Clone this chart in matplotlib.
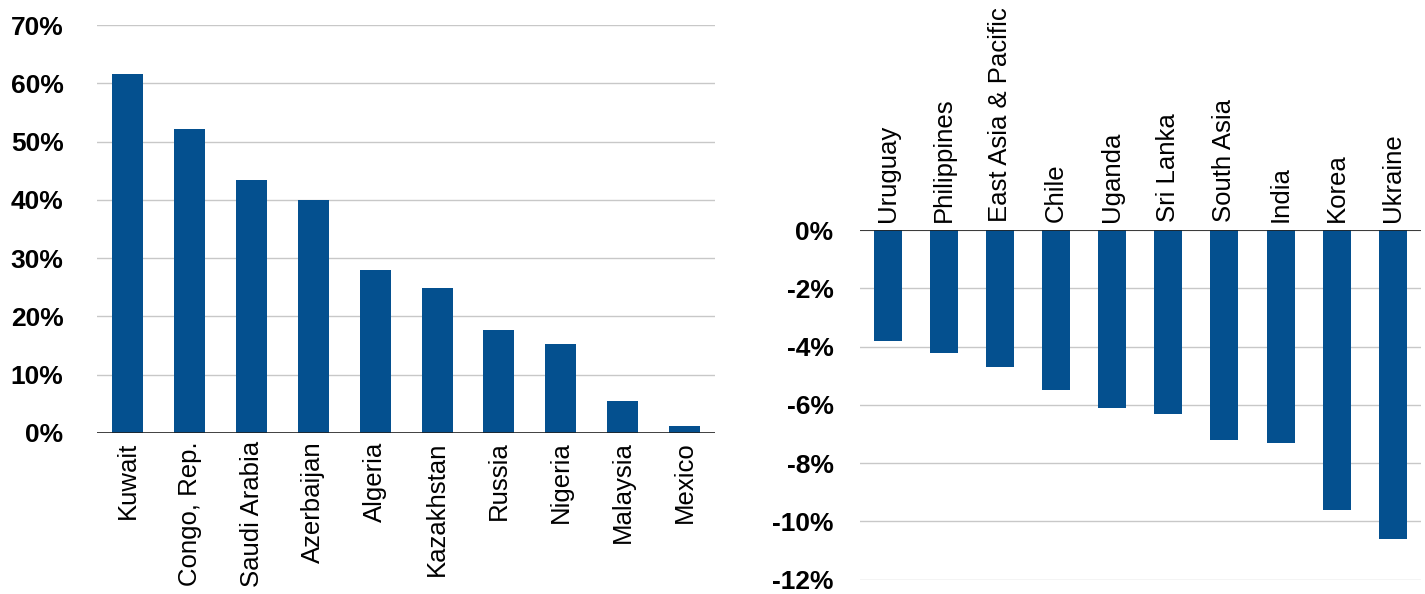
import numpy as np
import matplotlib.pyplot as plt
import matplotlib as mpl
from matplotlib.ticker import FuncFormatter

mpl.rcParams['font.family'] = ['Liberation Sans', 'DejaVu Sans']

# data
left_names = ['Kuwait', 'Congo, Rep.', 'Saudi Arabia', 'Azerbaijan', 'Algeria',
              'Kazakhstan', 'Russia', 'Nigeria', 'Malaysia', 'Mexico']
left_vals = [61.6, 52.1, 43.5, 40.0, 27.9, 24.9, 17.7, 15.3, 5.5, 1.2]

right_names = ['Uruguay', 'Philippines', 'East Asia & Pacific', 'Chile', 'Uganda',
               'Sri Lanka', 'South Asia', 'India', 'Korea', 'Ukraine']
right_vals = [-3.8, -4.2, -4.7, -5.5, -6.1, -6.3, -7.2, -7.3, -9.6, -10.6]

bar_color = '#04508f'
grid_color = '#c8c8c8'
pct = FuncFormatter(lambda v, p: '%d%%' % round(v))

fig = plt.figure(figsize=(14.25, 5.94), dpi=100)
ax1 = fig.add_axes([0.068, 0.271, 0.434, 0.687])
ax2 = fig.add_axes([0.6035, 0.0236, 0.3935, 0.5894])

def style(ax, ymin, ymax, step, pad_y):
    ax.set_ylim(ymin - step * 0.005, ymax + step * 0.005)
    ax.set_yticks(np.arange(ymin, ymax + step / 2, step))
    ax.yaxis.set_major_formatter(pct)
    ax.grid(axis='y', color=grid_color, lw=1)
    ax.set_axisbelow(True)
    for s in ax.spines.values():
        s.set_visible(False)
    ax.tick_params(length=0)
    ax.tick_params(axis='y', pad=pad_y, labelsize=19)
    for lab in ax.get_yticklabels():
        lab.set_fontweight('bold')
    ax.axhline(0, color='#222222', lw=1.2, zorder=3)

# left panel
x = np.arange(len(left_names))
ax1.bar(x, left_vals, width=0.5, color=bar_color, zorder=2)
ax1.set_xlim(-0.5, len(left_names) - 0.5)
style(ax1, 0, 70, 10, 24)
ax1.set_xticks(x)
ax1.set_xticklabels(left_names, rotation=90, fontsize=18.5)
ax1.tick_params(axis='x', pad=6)

# right panel
x2 = np.arange(len(right_names))
ax2.bar(x2, right_vals, width=0.5, color=bar_color, zorder=2)
ax2.set_xlim(-0.5, len(right_names) - 0.5)
style(ax2, -12, 0, 2, 19)
ax2.xaxis.tick_top()
ax2.set_xticks(x2)
ax2.set_xticklabels(right_names, rotation=90, fontsize=18.5)
ax2.tick_params(axis='x', pad=6)

plt.savefig('out.png', dpi=100)
